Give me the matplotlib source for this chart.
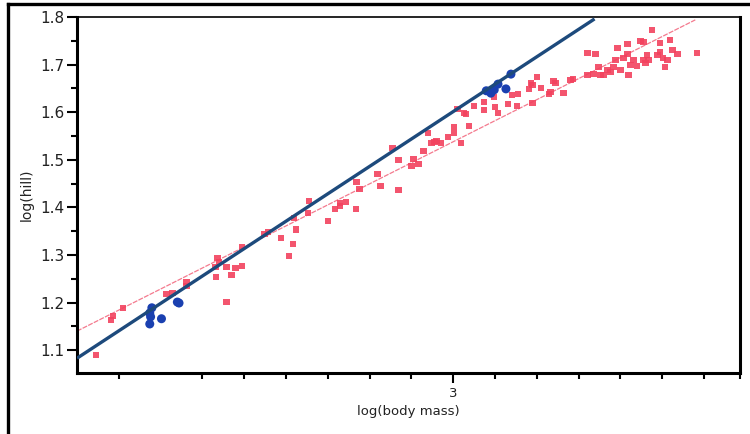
import matplotlib
matplotlib.use("Agg")
import matplotlib.pyplot as plt
import numpy as np
from matplotlib.lines import Line2D

# --- Data ---
red_x = [2.145, 2.181, 2.186, 2.210, 2.314, 2.329, 2.362, 2.362, 2.431, 2.436,
         2.440, 2.433, 2.457, 2.457, 2.469, 2.479, 2.495, 2.495, 2.548, 2.557,
         2.588, 2.607, 2.617, 2.619, 2.624, 2.652, 2.655, 2.700, 2.717, 2.729,
         2.729, 2.743, 2.767, 2.769, 2.776, 2.819, 2.826, 2.855, 2.869, 2.869,
         2.900, 2.905, 2.917, 2.929, 2.940, 2.948, 2.960, 2.971, 2.988, 3.002,
         3.002, 3.010, 3.019, 3.031, 3.038, 3.050, 3.074, 3.074, 3.098, 3.100,
         3.107, 3.131, 3.140, 3.152, 3.155, 3.181, 3.190, 3.190, 3.200, 3.210,
         3.229, 3.233, 3.240, 3.245, 3.264, 3.286, 3.321, 3.336, 3.321, 3.340,
         3.348, 3.352, 3.360, 3.369, 3.376, 3.383, 3.388, 3.393, 3.400, 3.407,
         3.417, 3.417, 3.419, 3.424, 3.431, 3.440, 3.448, 3.455, 3.455, 3.460,
         3.464, 3.467, 3.476, 3.488, 3.495, 3.495, 3.502, 3.507, 3.512, 3.519,
         3.524, 3.536, 3.583, 3.281, 3.026, 2.955, 3.186]
red_y = [1.090, 1.163, 1.172, 1.189, 1.218, 1.220, 1.243, 1.235, 1.275, 1.294,
         1.285, 1.254, 1.201, 1.275, 1.258, 1.273, 1.277, 1.317, 1.344, 1.348,
         1.336, 1.298, 1.323, 1.378, 1.353, 1.388, 1.413, 1.371, 1.397, 1.403,
         1.409, 1.411, 1.397, 1.453, 1.439, 1.470, 1.445, 1.525, 1.500, 1.437,
         1.487, 1.502, 1.491, 1.518, 1.556, 1.535, 1.539, 1.535, 1.548, 1.569,
         1.556, 1.607, 1.535, 1.596, 1.571, 1.613, 1.621, 1.605, 1.632, 1.611,
         1.598, 1.617, 1.636, 1.613, 1.638, 1.649, 1.657, 1.619, 1.674, 1.651,
         1.638, 1.642, 1.666, 1.661, 1.640, 1.670, 1.678, 1.680, 1.724, 1.722,
         1.695, 1.678, 1.678, 1.689, 1.684, 1.695, 1.710, 1.735, 1.689, 1.714,
         1.743, 1.722, 1.678, 1.699, 1.710, 1.697, 1.750, 1.747, 1.710, 1.703,
         1.720, 1.710, 1.773, 1.720, 1.745, 1.726, 1.714, 1.695, 1.710, 1.752,
         1.731, 1.722, 1.724, 1.668, 1.598, 1.537, 1.661]

blue_x = [2.279, 2.274, 2.276, 2.274, 2.302, 2.340, 2.344,
          3.079, 3.090, 3.098, 3.107, 3.126, 3.138]
blue_y = [1.189, 1.178, 1.170, 1.155, 1.166, 1.201, 1.199,
          1.645, 1.640, 1.647, 1.659, 1.649, 1.680]

# fitted lines (end points)
blue_fit_x = [2.100, 3.338]
blue_fit_y = [1.083, 1.796]
red_fit_x = [2.100, 3.579]
red_fit_y = [1.140, 1.794]

x_minor = [2.2, 2.4, 2.5, 2.6, 2.7, 2.8, 2.9, 3.1, 3.2, 3.3, 3.4, 3.5, 3.6, 3.686]
y_major = [1.1, 1.2, 1.3, 1.4, 1.5, 1.6, 1.7, 1.8]
y_minor = [1.15, 1.25, 1.35, 1.45, 1.55, 1.65, 1.75]

RED = "#f2425e"
BLUE = "#1a40b0"
NAVY = "#1d4a7c"

fig = plt.figure(figsize=(7.5, 4.34), dpi=100)
ax = fig.add_axes([0.1027, 0.1406, 0.884, 0.8202])

ax.plot(red_fit_x, red_fit_y, color="#f47a8e", lw=0.9, ls=(0, (4, 1)), zorder=2)
ax.scatter(red_x, red_y, s=22, marker="s", color=RED, edgecolors="none", alpha=0.9, zorder=3)
ax.scatter(blue_x, blue_y, s=42, marker="o", color=BLUE, edgecolors="none", zorder=4)
ax.plot(blue_fit_x, blue_fit_y, color=NAVY, lw=2.4, solid_capstyle="butt", zorder=5)

ax.set_xlim(2.1, 3.686)
ax.set_ylim(1.052, 1.8)

ax.set_xticks([3.0])
ax.set_xticklabels(["3"])
ax.set_xticks(x_minor, minor=True)
ax.set_yticks(y_major)
ax.set_yticklabels([f"{v:.1f}" for v in y_major])
ax.set_yticks(y_minor, minor=True)

ax.tick_params(axis="both", which="major", direction="out", length=7, width=1.5,
               labelsize=11, labelcolor="#222222", pad=2)
ax.tick_params(axis="both", which="minor", direction="out", length=4, width=1.5)
ax.tick_params(axis="x", which="major", length=7, labelsize=9.5, pad=3)

for side in ["left", "bottom", "right"]:
    ax.spines[side].set_linewidth(2.2)
ax.spines["top"].set_linewidth(1.2)

ax.set_xlabel("log(body mass)", fontsize=9.5, color="#222222", labelpad=4)
ax.set_ylabel("log(hill)", fontsize=10, color="#222222", labelpad=5)

# outer frame (partially visible)
fig.add_artist(Line2D([0.0107, 1.0], [0.9908, 0.9908], color="black", lw=2.4,
                      transform=fig.transFigure))
fig.add_artist(Line2D([0.0107, 0.0107], [0.0, 0.9908], color="black", lw=2.4,
                      transform=fig.transFigure))

fig.savefig("out.png", dpi=100)
